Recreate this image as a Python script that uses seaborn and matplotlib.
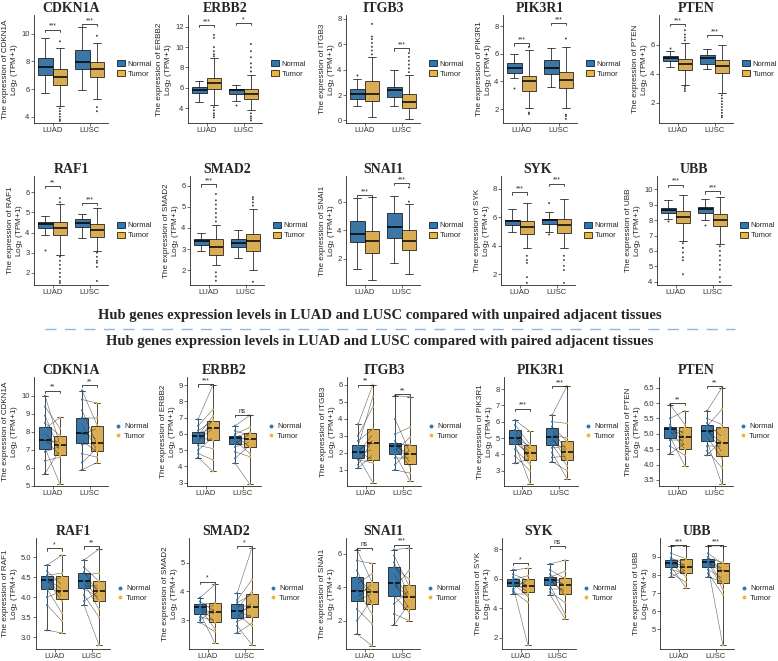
# -*- coding: utf-8 -*-
"""
Hub gene expression in LUAD and LUSC, tumour vs adjacent normal.
Top block: unpaired samples, bottom block: paired samples.
"""

import numpy as np
import pandas as pd
import matplotlib
matplotlib.use('Agg')
import matplotlib.pyplot as plt
from matplotlib.patches import Patch
from matplotlib.lines import Line2D
import seaborn as sns

genes = ['CDKN1A', 'ERBB2', 'ITGB3', 'PIK3R1', 'PTEN', 'RAF1', 'SMAD2', 'SNAI1', 'SYK', 'UBB']
cancers = ['LUAD', 'LUSC']
groups = ['Normal', 'Tumor']

# five-number summaries [min, q1, median, q3, max]
# each row: LUAD Normal, LUAD Tumor, LUSC Normal, LUSC Tumor
unpaired_box = [
    [[5.7, 7.01, 7.59, 8.28, 9.72], [4.8, 6.32, 6.85, 7.47, 9.0], [5.9, 7.42, 7.95, 8.8, 10.5], [5.3, 6.85, 7.42, 7.95, 9.3]],  # CDKN1A
    [[4.6, 5.45, 5.78, 6.1, 6.7], [4.3, 5.87, 6.5, 7.0, 8.9], [4.75, 5.4, 5.78, 5.87, 6.3], [3.8, 4.86, 5.4, 5.87, 7.3]],  # ERBB2
    [[1.15, 1.7, 2.07, 2.45, 3.3], [0.25, 1.57, 2.12, 3.12, 5.0], [1.17, 1.87, 2.37, 2.65, 3.95], [0.1, 0.97, 1.45, 2.05, 3.6]],  # ITGB3
    [[4.25, 4.64, 4.98, 5.32, 6.0], [2.1, 3.34, 4.0, 4.41, 6.3], [3.6, 4.55, 4.98, 5.55, 6.4], [2.1, 3.5, 4.1, 4.7, 6.5]],  # PIK3R1
    [[4.45, 4.85, 5.1, 5.25, 5.6], [3.25, 4.27, 4.65, 5.0, 6.1], [4.35, 4.7, 5.05, 5.3, 5.7], [2.65, 4.05, 4.5, 4.92, 5.95]],  # PTEN
    [[3.9, 4.2, 4.43, 4.5, 4.8], [2.9, 3.88, 4.2, 4.5, 5.4], [3.75, 4.25, 4.45, 4.65, 4.9], [3.1, 3.77, 4.12, 4.4, 5.2]],  # RAF1
    [[2.93, 3.2, 3.4, 3.48, 3.78], [2.25, 2.73, 3.1, 3.45, 4.15], [2.58, 3.08, 3.27, 3.45, 3.88], [2.0, 2.93, 3.36, 3.7, 4.9]],  # SMAD2
    [[1.25, 3.15, 3.75, 4.63, 6.23], [0.5, 2.41, 3.26, 3.93, 6.3], [1.7, 3.48, 4.23, 5.2, 6.4], [0.9, 2.61, 3.26, 3.98, 5.8]],  # SNAI1
    [[5.0, 5.44, 5.72, 5.8, 6.55], [3.85, 4.84, 5.33, 5.77, 7.0], [4.95, 5.53, 5.8, 5.9, 6.37], [3.85, 4.9, 5.44, 5.9, 7.3]],  # SYK
    [[8.1, 8.43, 8.63, 8.8, 9.3], [6.65, 7.81, 8.23, 8.6, 9.6], [8.0, 8.43, 8.7, 8.86, 9.38], [6.42, 7.62, 8.0, 8.4, 9.5]],  # UBB
]

unpaired_outliers = [
    [[], [9.45, 4.6, 4.4, 4.2, 4.0, 3.8, 3.7], [], [9.85, 4.7, 4.4]],
    [[], [9.1, 9.3, 9.6, 10.0, 10.9, 11.2, 4.1, 3.8, 3.5, 3.3, 3.1], [4.3], [7.6, 8.0, 8.4, 9.0, 9.6, 10.3, 3.5, 3.2, 3.0, 2.8]],
    [[3.6], [5.2, 5.5, 5.8, 6.1, 6.4, 6.6, 7.6], [], [3.8, 4.1, 4.4, 4.7, 5.0, 5.3]],
    [[3.5], [6.5, 1.75, 1.65], [], [7.1, 1.6, 1.5, 1.3]],
    [[5.8], [6.3, 6.5, 6.7, 7.0, 3.1, 2.95, 2.8], [], [2.5, 2.3, 2.1, 1.9, 1.7, 1.5, 1.3, 1.1, 1.0]],
    [[3.15], [5.5, 5.7, 2.8, 2.6, 2.4, 2.2, 2.0, 1.8, 1.6, 1.5], [], [3.0, 2.8, 2.6, 2.5, 2.3, 1.6]],
    [[], [4.3, 4.5, 4.7, 4.9, 5.1, 5.3, 5.6, 1.9, 1.7, 1.5], [], [5.05, 5.2, 5.35, 5.45, 1.45]],
    [[], [], [], [6.0, 7.0]],
    [[], [3.3, 3.0, 2.8, 1.8, 1.4], [7.0, 4.8], [3.3, 3.0, 2.6, 2.3, 1.4]],
    [[7.95], [6.5, 6.2, 5.9, 5.6, 5.4, 4.5], [7.7], [6.3, 6.0, 5.7, 5.4, 5.1, 4.8, 4.3, 4.0]],
]

# significance label and bracket height for LUAD, LUSC (None = no bracket)
unpaired_sig = [
    [('***', 10.3), ('***', 10.7)],
    [('***', 12.15), ('*', 12.35)],
    [None, ('***', 5.67)],
    [('***', 6.75), ('***', 8.2)],
    [('***', 7.43), ('***', 6.67)],
    [('**', 6.3), ('***', 5.45)],
    [('***', 6.05), None],
    [('***', 6.45), ('***', 7.3)],
    [('***', 7.75), ('***', 8.35)],
    [('***', 10.3), ('***', 9.85)],
]

unpaired_yticks = [
    [4, 6, 8, 10], [4, 6, 8, 10, 12], [0, 2, 4, 6, 8], [2, 4, 6, 8], [2, 4, 6],
    [2, 3, 4, 5, 6], [2, 3, 4, 5, 6], [2, 4, 6], [2, 4, 6, 8], [4, 5, 6, 7, 8, 9, 10],
]

paired_box = [
    [[5.67, 7.04, 7.58, 8.26, 10.0], [5.1, 6.73, 7.25, 7.8, 8.85], [5.9, 7.4, 7.95, 8.8, 10.3], [6.25, 6.93, 7.38, 8.35, 9.6]],
    [[4.55, 5.45, 5.85, 6.1, 6.9], [3.7, 5.65, 6.37, 6.8, 9.0], [4.2, 5.4, 5.78, 5.9, 6.5], [2.9, 5.2, 5.7, 6.05, 7.15]],
    [[1.1, 1.7, 2.04, 2.47, 3.67], [0.25, 1.57, 2.58, 3.42, 6.0], [1.0, 1.9, 2.38, 2.58, 5.35], [0.35, 1.33, 1.9, 2.47, 5.3]],
    [[3.45, 4.63, 5.0, 5.48, 6.1], [2.2, 3.65, 4.1, 4.54, 5.4], [3.55, 4.54, 5.04, 5.6, 6.4], [2.5, 3.65, 4.15, 4.83, 8.2]],
    [[4.35, 4.85, 5.15, 5.22, 5.95], [3.95, 4.52, 4.9, 5.23, 5.75], [4.3, 4.75, 5.1, 5.3, 5.75], [3.35, 4.27, 4.7, 5.23, 6.5]],
    [[3.17, 4.2, 4.42, 4.54, 4.8], [3.1, 3.95, 4.16, 4.53, 5.05], [3.8, 4.22, 4.4, 4.6, 4.93], [2.8, 3.9, 4.15, 4.4, 5.2]],
    [[2.92, 3.23, 3.44, 3.55, 3.78], [2.2, 2.94, 3.27, 3.61, 4.24], [2.55, 3.08, 3.31, 3.55, 3.93], [2.15, 3.1, 3.46, 3.9, 5.5]],
    [[1.2, 3.17, 3.8, 4.63, 6.25], [0.5, 2.97, 3.72, 4.32, 5.43], [1.75, 3.47, 4.24, 5.23, 6.25], [2.0, 2.7, 3.42, 4.12, 6.35]],
    [[5.0, 5.52, 5.7, 5.97, 6.6], [1.5, 5.07, 5.5, 5.97, 6.7], [4.9, 5.57, 5.9, 6.14, 7.0], [3.3, 4.95, 5.57, 6.07, 7.25]],
    [[7.9, 8.46, 8.68, 8.82, 9.6], [7.3, 8.1, 8.46, 8.87, 9.6], [7.9, 8.43, 8.73, 8.9, 9.6], [4.1, 7.54, 8.2, 8.64, 9.6]],
]

paired_sig = [
    [('**', 10.3), ('**', 10.6)],
    [('***', 9.05), ('ns', 7.15)],
    [('**', 6.0), ('**', 5.45)],
    [('***', 6.8), ('***', 8.2)],
    [('**', 6.0), ('**', 6.55)],
    [('*', 5.22), ('**', 5.27)],
    [('*', 4.33), ('*', 5.57)],
    [('ns', 6.38), ('***', 6.55)],
    [('*', 7.05), ('ns', 8.23)],
    [('***', 9.66), ('***', 9.66)],
]

paired_yticks = [
    [5, 6, 7, 8, 9, 10], [3, 4, 5, 6, 7, 8, 9], [1, 2, 3, 4, 5, 6], [3, 4, 5, 6, 7, 8],
    [3.5, 4.0, 4.5, 5.0, 5.5, 6.0, 6.5], [3.0, 3.5, 4.0, 4.5, 5.0], [3, 4, 5], [2, 4, 6],
    [2, 4, 6, 8], [5, 6, 7, 8, 9],
]

# paired samples (normal -> tumour), per gene: [LUAD, LUSC]
paired_normal = [
    [[10.0, 9.4, 8.9, 8.5, 8.2, 7.9, 7.6, 7.4, 7.1, 6.9, 6.4, 5.7], [10.3, 9.8, 9.2, 8.8, 8.4, 8.0, 7.8, 7.5, 7.3, 6.8, 6.3, 5.9]],
    [[6.9, 6.5, 6.2, 6.0, 5.9, 5.8, 5.7, 5.5, 5.3, 5.0, 4.8, 4.55], [6.5, 6.2, 6.0, 5.9, 5.8, 5.75, 5.6, 5.4, 5.2, 4.9, 4.5, 4.2]],
    [[3.67, 3.0, 2.7, 2.4, 2.2, 2.05, 2.0, 1.9, 1.75, 1.6, 1.3, 1.1], [5.35, 3.98, 3.1, 2.7, 2.5, 2.4, 2.3, 2.1, 1.9, 1.7, 1.3, 1.0]],
    [[6.1, 5.8, 5.5, 5.3, 5.1, 5.0, 4.9, 4.7, 4.6, 4.3, 3.9, 3.45], [6.4, 6.0, 5.7, 5.5, 5.2, 5.05, 4.9, 4.6, 4.4, 4.1, 3.8, 3.55]],
    [[5.95, 5.5, 5.3, 5.22, 5.18, 5.15, 5.1, 5.0, 4.9, 4.8, 4.6, 4.35], [5.75, 5.5, 5.35, 5.25, 5.15, 5.1, 5.0, 4.9, 4.75, 4.6, 4.45, 4.3]],
    [[4.8, 4.65, 4.55, 4.5, 4.45, 4.42, 4.35, 4.25, 4.2, 4.0, 3.8, 3.17], [4.93, 4.75, 4.62, 4.55, 4.45, 4.4, 4.35, 4.25, 4.2, 4.05, 3.9, 3.8]],
    [[3.78, 3.65, 3.55, 3.5, 3.45, 3.44, 3.4, 3.3, 3.23, 3.1, 3.0, 2.92], [3.93, 3.7, 3.6, 3.5, 3.4, 3.32, 3.3, 3.2, 3.1, 2.95, 2.8, 2.55]],
    [[6.25, 5.6, 5.0, 4.6, 4.2, 3.9, 3.75, 3.4, 3.2, 2.7, 2.0, 1.2], [6.25, 5.9, 5.5, 5.2, 4.8, 4.3, 4.2, 3.9, 3.5, 3.0, 2.4, 1.75]],
    [[6.6, 6.3, 6.1, 5.95, 5.8, 5.72, 5.7, 5.6, 5.5, 5.3, 5.15, 5.0], [7.0, 6.6, 6.3, 6.1, 6.0, 5.9, 5.85, 5.7, 5.55, 5.3, 5.1, 4.9]],
    [[9.6, 9.2, 8.95, 8.85, 8.75, 8.7, 8.65, 8.55, 8.45, 8.3, 8.1, 7.9], [9.6, 9.2, 9.0, 8.9, 8.8, 8.75, 8.7, 8.6, 8.45, 8.3, 8.1, 7.9]],
]
paired_tumor = [
    [[7.3, 8.2, 6.9, 7.8, 8.8, 7.1, 6.7, 7.5, 5.1, 7.2, 6.6, 7.0], [8.4, 9.6, 7.3, 8.8, 7.0, 7.6, 8.2, 6.9, 7.4, 6.6, 7.1, 6.3]],
    [[9.0, 7.5, 6.8, 6.4, 7.1, 5.6, 6.3, 6.9, 5.1, 5.8, 4.4, 3.7], [7.15, 5.9, 6.4, 5.2, 6.1, 5.7, 4.8, 6.0, 5.5, 4.6, 5.3, 2.9]],
    [[6.0, 4.7, 3.4, 5.3, 2.6, 1.6, 3.1, 2.2, 0.25, 1.4, 2.8, 1.9], [5.3, 2.0, 3.5, 1.4, 2.47, 1.9, 1.2, 2.9, 0.35, 1.7, 2.2, 0.8]],
    [[5.4, 4.6, 4.3, 3.6, 4.1, 4.5, 3.8, 4.0, 2.2, 3.4, 3.0, 3.7], [8.2, 5.9, 4.8, 4.2, 5.0, 3.6, 4.1, 3.3, 4.5, 2.5, 3.9, 3.0]],
    [[5.3, 5.75, 4.6, 5.0, 5.2, 4.9, 4.5, 5.1, 3.95, 4.8, 4.3, 4.7], [6.5, 5.3, 4.9, 5.8, 4.4, 4.7, 5.2, 4.2, 3.35, 4.6, 3.9, 4.8]],
    [[5.05, 4.3, 4.6, 4.0, 4.2, 3.9, 4.5, 4.1, 3.6, 4.15, 3.4, 3.1], [5.2, 4.4, 4.1, 4.6, 3.9, 4.2, 3.7, 4.3, 4.0, 3.5, 4.15, 2.8]],
    [[4.24, 3.3, 3.6, 2.9, 3.5, 3.2, 2.7, 3.3, 2.2, 3.0, 3.4, 2.6], [5.5, 4.4, 3.9, 3.5, 4.0, 3.1, 3.45, 2.8, 3.6, 3.2, 2.15, 2.9]],
    [[4.3, 5.43, 3.0, 3.7, 4.8, 2.4, 3.9, 4.2, 3.6, 1.8, 3.3, 0.5], [6.35, 4.1, 3.5, 4.5, 3.3, 2.7, 3.4, 5.0, 2.5, 3.8, 2.0, 3.0]],
    [[6.7, 5.9, 5.5, 6.2, 5.1, 5.6, 4.8, 5.4, 1.5, 5.95, 4.4, 5.0], [7.25, 6.0, 5.5, 6.5, 4.9, 5.6, 5.1, 6.1, 3.6, 5.3, 4.4, 3.3]],
    [[9.6, 8.9, 8.5, 8.8, 8.2, 8.45, 7.9, 8.6, 7.3, 8.1, 7.6, 8.3], [9.6, 8.6, 8.2, 8.7, 7.5, 8.1, 7.2, 8.4, 4.1, 7.8, 6.9, 7.6]],
]

caption_unpaired = 'Hub genes expression levels in LUAD and LUSC compared with unpaired adjacent tissues'
caption_paired = 'Hub genes expression levels in LUAD and LUSC compared with paired adjacent tissues'

# ---------------- layout / style ----------------
W, H = 778, 661
BLUE = '#2A78B5'
YELLOW = '#EEB43F'
palette = {'Normal': BLUE, 'Tumor': YELLOW}

unpaired_ylim = [(3.55, 11.35), (2.55, 13.15), (-0.2, 8.3), (1.0, 8.8), (0.6, 8.05),
                 (1.4, 6.8), (1.3, 6.45), (0.15, 7.8), (1.25, 8.9), (3.8, 10.85)]
paired_ylim = [(5.0, 11.05), (2.8, 9.5), (0.05, 6.45), (2.05, 8.75), (3.3, 6.85),
               (2.7, 5.48), (2.0, 5.85), (0.3, 6.95), (1.25, 8.75), (3.9, 10.05)]

# (top, bottom) of each row of axes in pixels, and left edges per row
row_tb = [(15, 123), (176, 285), (377, 486), (538, 649)]
row_left = [[34, 188, 346, 503, 659], [34, 190, 346, 501, 657],
            [34, 187, 347, 504, 659], [36, 189, 346, 502, 660]]
AX_W = 74

sns.set_theme(style='ticks')
plt.rcParams['font.family'] = ['Liberation Sans', 'DejaVu Sans']
plt.rcParams['axes.linewidth'] = 0.6


def make_axes(fig, row, col):
    top, bottom = row_tb[row]
    left = row_left[row][col]
    return fig.add_axes([left / W, 1 - bottom / H, AX_W / W, (bottom - top) / H])


def box_frame(stats):
    rows = []
    for k, s in enumerate(stats):
        for v in s:
            rows.append({'cancer': cancers[k // 2], 'group': groups[k % 2], 'value': v})
    return pd.DataFrame(rows)


def draw_boxes(ax, stats, gap):
    sns.boxplot(data=box_frame(stats), x='cancer', y='value', hue='group',
                order=cancers, hue_order=groups, palette=palette, whis=np.inf,
                width=0.8, gap=gap, linecolor='black', linewidth=0.5,
                medianprops={'linewidth': 1.1}, legend=False, ax=ax)


def draw_sig(ax, sig, ylim):
    h = (ylim[1] - ylim[0]) * 0.02
    for i, s in enumerate(sig):
        if s is None:
            continue
        label, y = s
        ax.plot([i - 0.2, i - 0.2, i + 0.2, i + 0.2], [y - h, y, y, y - h],
                color='black', lw=0.5, zorder=5)
        ax.text(i, y, label, ha='center', va='bottom', fontsize=4.8, zorder=5)


def style_axes(ax, gene, yticks, ylim):
    ax.set_xlim(-0.5, 1.5)
    ax.set_ylim(*ylim)
    ax.set_xticks([0, 1], cancers)
    if all(float(t).is_integer() for t in yticks):
        labels = [str(int(t)) for t in yticks]
    else:
        labels = ['%.1f' % t for t in yticks]
    ax.set_yticks(yticks, labels)
    ax.tick_params(labelsize=5.5, length=2, width=0.5, pad=1.2, colors='#333333')
    ax.set_xlabel('')
    ax.set_ylabel('The expression of %s\nLog$_2$ (TPM+1)' % gene, fontsize=5.9, labelpad=0.5,
                  linespacing=1.0)
    ax.set_title(gene, fontfamily='Liberation Serif', fontweight='bold', fontsize=10, pad=1.5)
    sns.despine(ax=ax)


def unpaired_panel(fig, row, col, g):
    ax = make_axes(fig, row, col)
    draw_boxes(ax, unpaired_box[g], 0)
    # outlier points
    rows = []
    for k, pts in enumerate(unpaired_outliers[g]):
        for v in pts:
            rows.append({'cancer': cancers[k // 2], 'group': groups[k % 2], 'value': v})
    odf = pd.DataFrame(rows)
    sns.stripplot(data=odf, x='cancer', y='value', hue='group', order=cancers,
                  hue_order=groups, dodge=True, jitter=False,
                  palette={'Normal': '#444444', 'Tumor': '#444444'}, size=1.4,
                  legend=False, ax=ax)
    draw_sig(ax, unpaired_sig[g], unpaired_ylim[g])
    style_axes(ax, genes[g], unpaired_yticks[g], unpaired_ylim[g])
    handles = [Patch(facecolor=BLUE, edgecolor='black', lw=0.5),
               Patch(facecolor=YELLOW, edgecolor='black', lw=0.5)]
    ax.legend(handles, groups, loc='center left', bbox_to_anchor=(1.08, 0.5), frameon=False,
              fontsize=5.5, handlelength=1.0, handleheight=0.9, handletextpad=0.4,
              labelspacing=0.3, borderaxespad=0)


def paired_panel(fig, row, col, g):
    ax = make_axes(fig, row, col)
    draw_boxes(ax, paired_box[g], 0.2)
    rows = []
    pid = 0
    for i in range(2):
        for n, t in zip(paired_normal[g][i], paired_tumor[g][i]):
            rows.append({'pair': pid, 'x': i - 0.2, 'value': n, 'group': 'Normal'})
            rows.append({'pair': pid, 'x': i + 0.2, 'value': t, 'group': 'Tumor'})
            pid += 1
    ldf = pd.DataFrame(rows)
    sns.lineplot(data=ldf, x='x', y='value', units='pair', estimator=None, sort=False,
                 color='#333333', linewidth=0.35, alpha=0.85, legend=False, ax=ax, zorder=3)
    sns.scatterplot(data=ldf, x='x', y='value', hue='group', palette=palette, s=2.5,
                    linewidth=0, legend=False, ax=ax, zorder=4)
    draw_sig(ax, paired_sig[g], paired_ylim[g])
    style_axes(ax, genes[g], paired_yticks[g], paired_ylim[g])
    handles = [Line2D([], [], marker='o', ls='', color=BLUE, markersize=1.8),
               Line2D([], [], marker='o', ls='', color=YELLOW, markersize=1.8)]
    ax.legend(handles, groups, loc='center left', bbox_to_anchor=(1.04, 0.5), frameon=False,
              fontsize=5.5, handlelength=1.0, handletextpad=0.3, labelspacing=0.3,
              borderaxespad=0)


fig = plt.figure(figsize=(W / 100, H / 100), dpi=100)

for g in range(10):
    unpaired_panel(fig, g // 5, g % 5, g)
    paired_panel(fig, 2 + g // 5, g % 5, g)

fig.text(380 / W, 1 - 316 / H, caption_unpaired, ha='center', va='center',
         fontfamily='Liberation Serif', fontweight='bold', fontsize=10.5)
fig.add_artist(Line2D([45 / W, 735 / W], [1 - 329 / H, 1 - 329 / H], color='#8FB8E0',
                      lw=1.0, dashes=(8, 6)))
fig.text(380 / W, 1 - 342 / H, caption_paired, ha='center', va='center',
         fontfamily='Liberation Serif', fontweight='bold', fontsize=10.5)

fig.savefig('out.png', dpi=100)
